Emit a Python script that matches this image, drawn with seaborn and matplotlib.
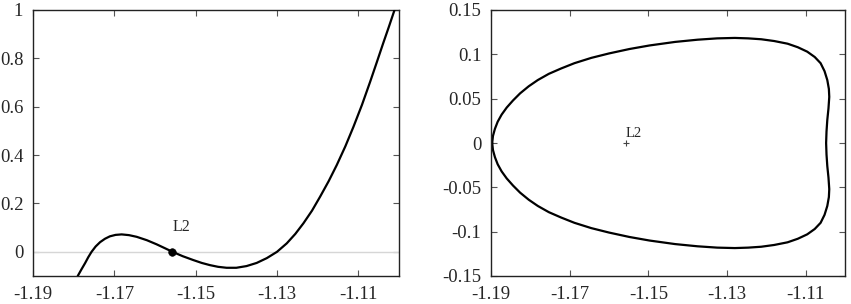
import matplotlib
matplotlib.use("Agg")
import matplotlib.pyplot as plt
import matplotlib.ticker as mticker
import seaborn as sns
import pandas as pd

# Left panel: curve along the x-axis around L2
CURVE_X = [-1.1790, -1.1781, -1.1772, -1.1764, -1.1756, -1.1746, -1.1735, -1.1723,
           -1.1711, -1.1697, -1.1682, -1.1664, -1.1645, -1.1620, -1.1596, -1.1577,
           -1.1557, -1.1532, -1.1506, -1.1485, -1.1465, -1.1445, -1.1424, -1.1400,
           -1.1375, -1.1350, -1.1325, -1.1300, -1.1276, -1.1255, -1.1235, -1.1214,
           -1.1194, -1.1173, -1.1153, -1.1132, -1.1112, -1.1091, -1.1071, -1.1055,
           -1.1039, -1.1025, -1.1011]
CURVE_Y = [-0.100, -0.073, -0.047, -0.022, 0.000, 0.022, 0.040, 0.054,
           0.064, 0.070, 0.072, 0.069, 0.062, 0.048, 0.031, 0.016,
           0.000, -0.018, -0.034, -0.046, -0.055, -0.062, -0.066, -0.066,
           -0.059, -0.046, -0.026, 0.000, 0.035, 0.074, 0.118, 0.170,
           0.228, 0.292, 0.359, 0.436, 0.517, 0.608, 0.703, 0.782,
           0.862, 0.930, 1.000]

# Right panel: closed orbit, upper half (lower half is its mirror image)
ORBIT_X_UPPER = [-1.1897, -1.1895, -1.1890, -1.1883, -1.1873, -1.1860, -1.1844, -1.1826,
                 -1.1804, -1.1781, -1.1753, -1.1722, -1.1688, -1.1645, -1.1600, -1.1548,
                 -1.1497, -1.1432, -1.1375, -1.1325, -1.1280, -1.1246, -1.1213, -1.1180,
                 -1.1146, -1.1120, -1.1096, -1.1077, -1.1062, -1.1052, -1.1045, -1.1041,
                 -1.1040, -1.1042, -1.1045, -1.1047, -1.1048]
ORBIT_Y_UPPER = [0.000, 0.008, 0.016, 0.024, 0.032, 0.040, 0.048, 0.056,
                 0.064, 0.071, 0.078, 0.084, 0.090, 0.096, 0.101, 0.106,
                 0.110, 0.114, 0.1165, 0.118, 0.1185, 0.118, 0.117, 0.115,
                 0.112, 0.108, 0.103, 0.097, 0.090, 0.081, 0.071, 0.061,
                 0.052, 0.039, 0.026, 0.013, 0.000]

L2_X = -1.1557
L2_LABEL = "L2"

X_TICKS = [-1.19, -1.17, -1.15, -1.13, -1.11]
LEFT_Y_TICKS = [0, 0.2, 0.4, 0.6, 0.8, 1]
RIGHT_Y_TICKS = [-0.15, -0.1, -0.05, 0, 0.05, 0.1, 0.15]


def style_axes(ax, yticks):
    ax.set_xlim(-1.19, -1.10)
    ax.set_xticks(X_TICKS)
    ax.set_yticks(yticks)
    fmt = mticker.FuncFormatter(lambda v, p: "%g" % round(v, 4))
    ax.xaxis.set_major_formatter(fmt)
    ax.yaxis.set_major_formatter(fmt)
    ax.tick_params(direction="in", top=True, right=True, length=4, width=0.8,
                   color="#555555", labelsize=13.5, pad=7)
    ax.set_xlabel("")
    ax.set_ylabel("")
    for sp in ax.spines.values():
        sp.set_visible(True)
        sp.set_color("#222222")
        sp.set_linewidth(1.0)


sns.set_style("ticks")
plt.rcParams["font.family"] = ["Liberation Serif", "DejaVu Serif"]
plt.rcParams["axes.unicode_minus"] = False

fig = plt.figure(figsize=(8.51, 3.04), dpi=100)
ax1 = fig.add_axes([33 / 851, 28 / 304, 366 / 851, 266 / 304])
ax2 = fig.add_axes([491 / 851, 28 / 304, 354 / 851, 266 / 304])

# left panel
ax1.axhline(0, color="#d6d6d6", lw=1.0, zorder=1)
df_curve = pd.DataFrame({"x": CURVE_X, "y": CURVE_Y})
sns.lineplot(data=df_curve, x="x", y="y", sort=False, estimator=None,
             color="black", lw=1.6, ax=ax1, zorder=3)
sns.scatterplot(x=[L2_X], y=[0.0], color="black", s=30, ax=ax1, zorder=4,
                edgecolor="black")
ax1.text(L2_X, 0.068, L2_LABEL, fontsize=11.5, ha="left", va="bottom")
ax1.set_ylim(-0.1, 1.0)
style_axes(ax1, LEFT_Y_TICKS)

# right panel
orbit_x = ORBIT_X_UPPER + ORBIT_X_UPPER[::-1]
orbit_y = ORBIT_Y_UPPER + [-v for v in ORBIT_Y_UPPER[::-1]]
df_orbit = pd.DataFrame({"x": orbit_x, "y": orbit_y})
sns.lineplot(data=df_orbit, x="x", y="y", sort=False, estimator=None,
             color="black", lw=1.6, ax=ax2)
sns.scatterplot(x=[L2_X], y=[0.0], marker="+", color="#444444", s=25,
                linewidth=0.8, ax=ax2)
ax2.text(L2_X, 0.003, L2_LABEL, fontsize=10.5, ha="left", va="bottom")
ax2.set_ylim(-0.15, 0.15)
style_axes(ax2, RIGHT_Y_TICKS)

fig.savefig("out.png", dpi=100)
